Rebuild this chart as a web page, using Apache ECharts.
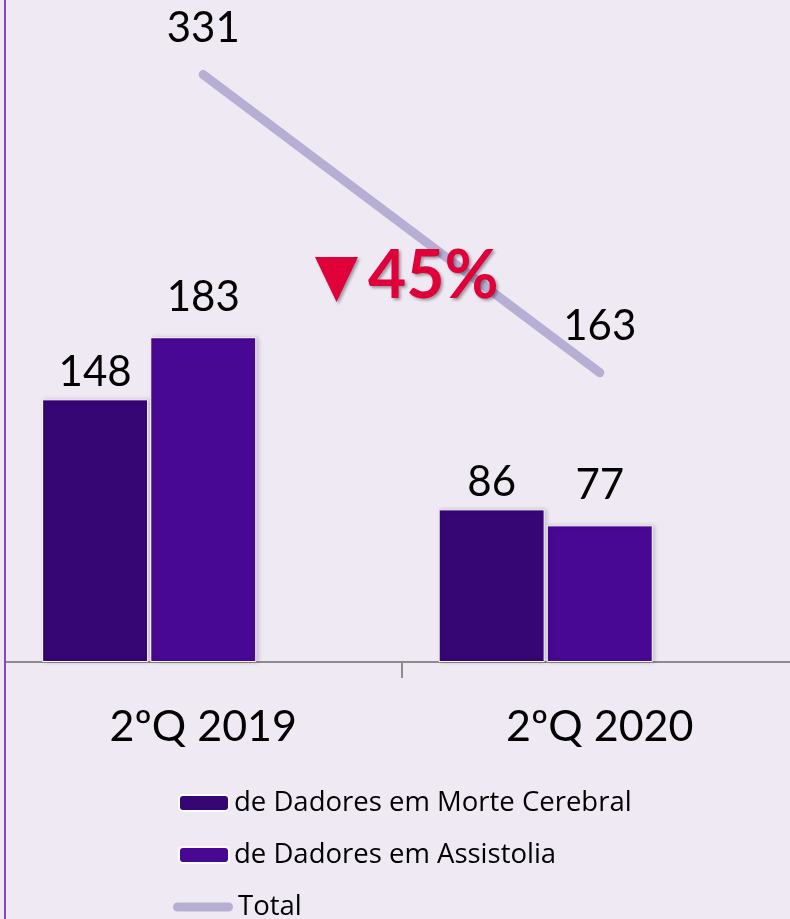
<!DOCTYPE html>
<html>
<head>
<meta charset="utf-8">
<script src="https://cdn.jsdelivr.net/npm/echarts@6/dist/echarts.min.js"></script>
<style>
  html, body { margin: 0; padding: 0; background: #EFE9F4; }
  #chart { width: 790px; height: 919px; }
</style>
</head>
<body>
<div id="chart"></div>
<script>
// values
const categories = ['2ºQ 2019', '2ºQ 2020'];
const morteCerebral = [148, 86];
const assistolia = [183, 77];
const total = [331, 163];
const seriesNames = ['de Dadores em Morte Cerebral', 'de Dadores em Assistolia', 'Total'];
const changeText = '45%';

const font = 'Lato';
const legendFont = 'Open Sans';
const lineColor = '#B6AFD3';

function legendItem(name, top, extra) {
  return Object.assign({
    orient: 'vertical',
    left: 178,
    top: top,
    padding: 0,
    itemWidth: 50,
    itemHeight: 16,
    data: [name],
    textStyle: { fontSize: 27.5, lineHeight: 28, color: '#000', fontFamily: legendFont }
  }, extra || {});
}

let chart = echarts.init(document.getElementById('chart'));
let option = {
  backgroundColor: '#EFE9F4',
  textStyle: { fontFamily: font },
  grid: { left: 5, right: -8, top: 0, bottom: 257, containLabel: false, outerBoundsMode: 'none' },
  xAxis: {
    type: 'category',
    data: categories,
    axisLine: { lineStyle: { color: '#8c8c8c', width: 2 } },
    axisTick: { show: true, length: 16, lineStyle: { color: '#8c8c8c', width: 2 } },
    axisLabel: { fontSize: 43, color: '#000', margin: 44, fontFamily: font }
  },
  yAxis: { type: 'value', min: 0, max: 373, show: false },
  legend: [
    legendItem(seriesNames[0], 789),
    legendItem(seriesNames[1], 841),
    legendItem(seriesNames[2], 893, {
      left: 173,
      itemWidth: 60,
      itemHeight: 9,
      icon: 'path://M4.5,0 L55.5,0 A4.5,4.5 0 0 1 55.5,9 L4.5,9 A4.5,4.5 0 0 1 4.5,0 Z',
      itemStyle: { color: lineColor, borderWidth: 0 }
    })
  ],
  series: [
    {
      name: seriesNames[0],
      type: 'bar',
      data: morteCerebral,
      barWidth: 106,
      barGap: '2%',
      itemStyle: {
        color: '#360674',
        borderColor: '#ffffff',
        borderWidth: 1,
        shadowColor: 'rgba(0,0,0,0.18)',
        shadowBlur: 4,
        shadowOffsetX: 2
      },
      label: { show: true, position: 'top', distance: 6, fontSize: 42, color: '#000', fontFamily: font }
    },
    {
      name: seriesNames[1],
      type: 'bar',
      data: assistolia,
      barWidth: 106,
      itemStyle: {
        color: '#480893',
        borderColor: '#ffffff',
        borderWidth: 1,
        shadowColor: 'rgba(0,0,0,0.18)',
        shadowBlur: 4,
        shadowOffsetX: 2
      },
      label: { show: true, position: 'top', distance: 19, fontSize: 42, color: '#000', fontFamily: font }
    },
    {
      // empty slot so the bar pair sits left of the line point, as in the original
      name: 'slot',
      type: 'bar',
      data: [null, null],
      barWidth: 106,
      silent: true
    },
    {
      name: seriesNames[2],
      type: 'line',
      data: total,
      symbol: 'circle',
      symbolSize: 0.1,
      showSymbol: true,
      itemStyle: { color: lineColor },
      lineStyle: { color: lineColor, width: 9, cap: 'round' },
      label: { show: true, position: 'top', distance: 25, fontSize: 42, color: '#000', fontFamily: font },
      z: 1
    }
  ],
  graphic: [
    { type: 'rect', shape: { x: 4, y: 0, width: 2, height: 919 }, style: { fill: '#8A47B8' }, z: 100 },
    {
      type: 'polygon',
      shape: { points: [[315, 257], [358, 257], [336.5, 302]] },
      style: { fill: '#E0003A', shadowColor: 'rgba(0,0,0,0.35)', shadowBlur: 3, shadowOffsetX: 2, shadowOffsetY: 2 },
      z: 100
    },
    {
      type: 'text',
      left: 368,
      top: 244,
      style: {
        text: changeText,
        fill: '#E0003A',
        font: 'bold 66px ' + font,
        textShadowColor: 'rgba(0,0,0,0.35)',
        textShadowBlur: 3,
        textShadowOffsetX: 2,
        textShadowOffsetY: 2
      },
      z: 100
    }
  ]
};
chart.setOption(option);
</script>
</body>
</html>
